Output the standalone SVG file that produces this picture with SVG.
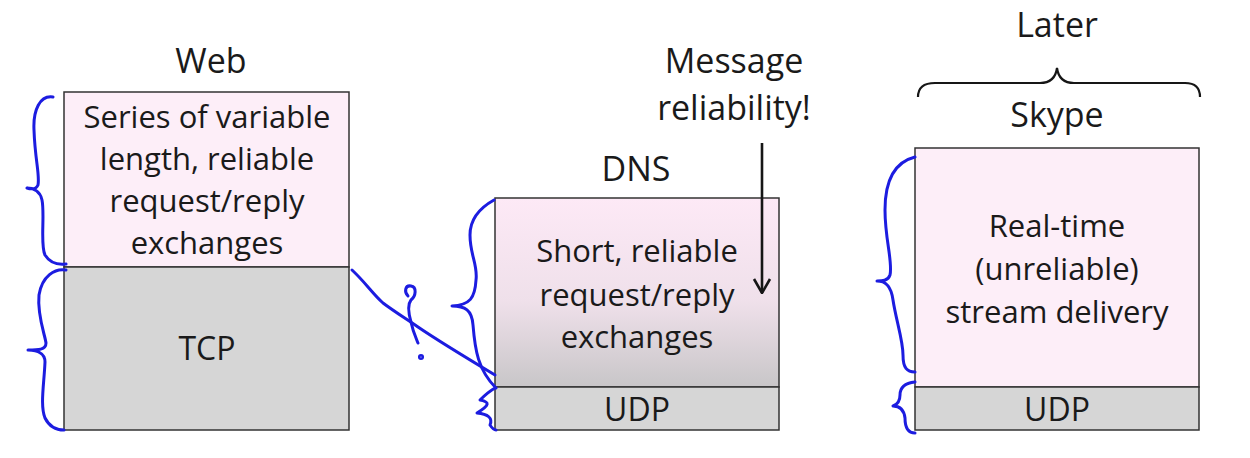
<svg xmlns="http://www.w3.org/2000/svg" width="1250" height="458" viewBox="0 0 1250 458">
<defs>
<linearGradient id="dnsg" x1="0" y1="0" x2="0" y2="1">
<stop offset="0" stop-color="#fde9f6"/>
<stop offset="0.55" stop-color="#efe0ea"/>
<stop offset="1" stop-color="#c8c6c8"/>
</linearGradient>
<marker id="ah" viewBox="0 0 16 20" refX="15" refY="10" markerWidth="16" markerHeight="20" markerUnits="userSpaceOnUse" orient="auto">
<path d="M1,2 L15,10 L1,18" fill="none" stroke="#161616" stroke-width="2.6"/>
</marker>
<style>
text{font-family:"Open Sans","Liberation Sans",sans-serif;font-size:31px;fill:#1a1a1a;text-anchor:middle}
.lbl{font-size:34px}
.proto{font-size:32px}
.box{stroke:#333;stroke-width:1.5}
.pink{fill:#fdeef8}
.gray{fill:#d6d6d6}
.ink{fill:none;stroke:#1c1ce0;stroke-width:3;stroke-linecap:round;stroke-linejoin:round}
</style>
</defs>
<rect width="1250" height="458" fill="#fff"/>
<g id="web">
<text class="lbl" x="211" y="73">Web</text>
<rect class="box pink" x="64" y="92" width="285" height="175"/>
<text x="207" y="128">Series of variable</text>
<text x="207" y="170">length, reliable</text>
<text x="207" y="212">request/reply</text>
<text x="207" y="254">exchanges</text>
<rect class="box gray" x="64" y="267" width="285" height="163"/>
<text class="proto" x="207" y="360">TCP</text>
</g>
<g id="dns">
<text class="lbl" x="636" y="181">DNS</text>
<rect class="box" fill="url(#dnsg)" x="495" y="198" width="284" height="189"/>
<text x="637" y="262">Short, reliable</text>
<text x="637" y="306">request/reply</text>
<text x="637" y="348">exchanges</text>
<rect class="box gray" x="495" y="387" width="284" height="43"/>
<text class="proto" x="637" y="421">UDP</text>
</g>
<g id="message">
<text class="lbl" x="734" y="73">Message</text>
<text class="lbl" x="734" y="120">reliability!</text>
</g>
<g id="skype">
<text class="lbl" x="1057" y="37">Later</text>
<text class="lbl" x="1057" y="127">Skype</text>
<rect class="box pink" x="915" y="148" width="284" height="239"/>
<text x="1057" y="237">Real-time</text>
<text x="1057" y="280">(unreliable)</text>
<text x="1057" y="323">stream delivery</text>
<rect class="box gray" x="915" y="387" width="284" height="43"/>
<text class="proto" x="1057" y="421">UDP</text>
</g>
<g id="connectors">
<line x1="762" y1="143" x2="762" y2="293" stroke="#161616" stroke-width="2.6" marker-end="url(#ah)"/>
<path d="M918,97 Q918,83 935,83 L1040,83 Q1055,83 1057,68 Q1059,83 1074,83 L1185,83 Q1200,83 1200,97" fill="none" stroke="#161616" stroke-width="2.2"/>
<path class="ink" d="M53,97 C40,95 33,110 34,130 C35,160 40,175 38,185 C36,190 30,189 27,188 C32,188 40,190 42,200 C45,215 40,245 45,255 C50,263 58,265 66,264"/>
<path class="ink" d="M66,270 C55,268 42,276 39,295 C37,315 45,335 46,343 C46,350 38,350 28,350 C35,350 45,352 45,362 C44,385 40,405 45,418 C50,428 57,430 64,430"/>
<path class="ink" d="M352,270 C365,282 372,293 383,303 C395,312 405,318 418,327 C440,342 470,360 495,375"/>
<path class="ink" d="M408,296 C404,292 405,285 411,286 C417,287 416,296 411,300 C407,305 409,315 411,322 C413,332 416,338 418,343"/>
<circle cx="421" cy="357" r="1.8" fill="none" stroke="#1c1ce0" stroke-width="2.5"/>
<path class="ink" d="M494,200 C485,205 470,215 470,235 C470,255 478,265 476,280 C475,298 470,305 452,306 C465,306 472,310 473,325 C475,350 478,370 496,388"/>
<path class="ink" d="M495,388 C488,392 484,396 480,400 C490,402 490,405 477,413 C488,414 493,418 490,425 C492,428 494,430 496,430"/>
<path class="ink" d="M915,157 C895,162 885,180 885,210 C885,240 893,262 890,275 C888,281 882,281 877,281 C885,281 891,285 893,300 C896,320 903,340 903,355 C903,368 907,372 915,372"/>
<path class="ink" d="M915,382 C905,383 900,388 900,395 C900,402 896,405 893,406 C900,406 904,410 905,418 C905,428 908,433 915,433"/>
</g>
</svg>
